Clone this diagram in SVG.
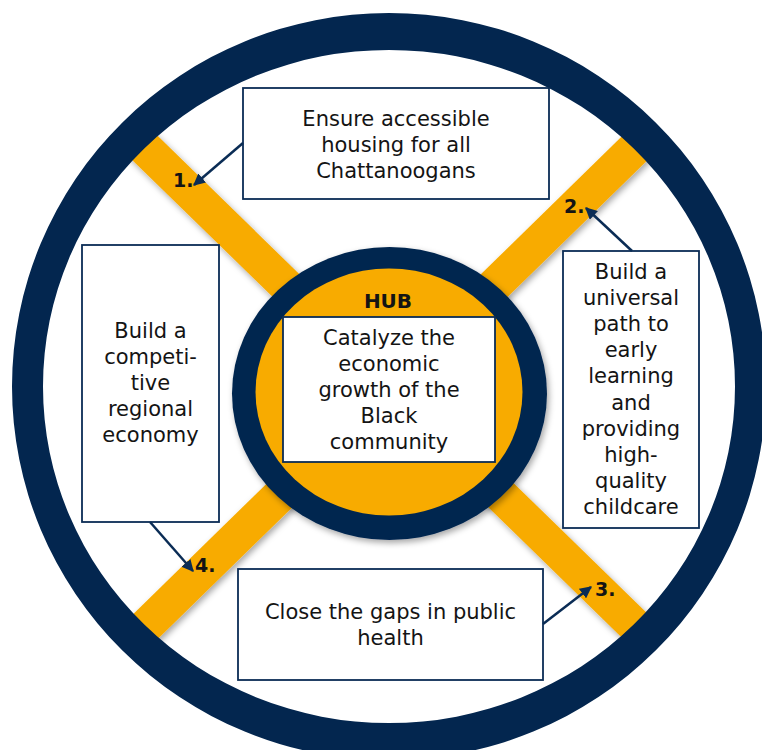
<svg xmlns="http://www.w3.org/2000/svg" width="762" height="750" viewBox="0 0 762 750">
<defs>
<style>
.bar{stroke:#F8AB00;stroke-width:35;fill:none}
.box{fill:#fff;stroke:#0a2c55;stroke-width:1.8}
.t{font-family:"DejaVu Sans","Liberation Sans",sans-serif;font-size:21px;fill:#141414;text-anchor:middle}
.n{font-family:"DejaVu Sans","Liberation Sans",sans-serif;font-size:19px;font-weight:bold;fill:#141414}
.arr{stroke:#0a2c55;stroke-width:2.5;fill:none;marker-end:url(#ah)}
</style>
<marker id="ah" viewBox="0 0 10 10" refX="9" refY="5" markerWidth="4.8" markerHeight="4.8" orient="auto">
<path d="M0,0 L10,5 L0,10 Z" fill="#0a2c55"/>
</marker>
<filter id="sh" x="-20%" y="-20%" width="140%" height="140%">
<feDropShadow dx="2" dy="3" stdDeviation="3" flood-color="#000" flood-opacity="0.35"/>
</filter>
</defs>
<rect width="762" height="750" fill="#fff"/>
<g id="bars" filter="url(#sh)">
<line class="bar" x1="136.4" y1="139.6" x2="641.6" y2="632.4"/>
<line class="bar" x1="641.6" y1="141.6" x2="138.4" y2="633.4"/>
</g>
<g id="ring">
<path fill="#03264F" fill-rule="evenodd" d="M12,386.5 a377,373.5 0 1,0 754,0 a377,373.5 0 1,0 -754,0 Z M43,386.5 a346,336.5 0 1,0 692,0 a346,336.5 0 1,0 -692,0 Z"/>
</g>
<g id="hub">
<ellipse cx="389.5" cy="393.5" rx="157.5" ry="146.5" fill="#03264F" filter="url(#sh)"/>
<ellipse cx="389" cy="392" rx="133.5" ry="123.5" fill="#F8AB00"/>
<text class="n" x="388" y="308" text-anchor="middle" style="font-size:20px">HUB</text>
<rect class="box" x="283" y="317" width="212" height="145"/>
<text class="t"><tspan x="389" y="345">Catalyze the</tspan><tspan x="389" y="371">economic</tspan><tspan x="389" y="397">growth of the</tspan><tspan x="389" y="423">Black</tspan><tspan x="389" y="449">community</tspan></text>
</g>
<g id="goal1">
<rect class="box" x="243" y="88" width="306" height="111"/>
<text class="t"><tspan x="396" y="126">Ensure accessible</tspan><tspan x="396" y="152">housing for all</tspan><tspan x="396" y="178">Chattanoogans</tspan></text>
<text class="n" x="173" y="187">1.</text>
</g>
<g id="goal2">
<rect class="box" x="563" y="251" width="136" height="277"/>
<text class="t"><tspan x="631" y="279">Build a</tspan><tspan x="631" y="305">universal</tspan><tspan x="631" y="331">path to</tspan><tspan x="631" y="357">early</tspan><tspan x="631" y="383">learning</tspan><tspan x="631" y="410">and</tspan><tspan x="631" y="436">providing</tspan><tspan x="631" y="462">high-</tspan><tspan x="631" y="488">quality</tspan><tspan x="631" y="514">childcare</tspan></text>
<text class="n" x="564" y="213">2.</text>
</g>
<g id="goal3">
<rect class="box" x="238" y="569" width="305" height="111"/>
<text class="t"><tspan x="390.5" y="619">Close the gaps in public</tspan><tspan x="390.5" y="645">health</tspan></text>
<text class="n" x="595" y="596">3.</text>
</g>
<g id="goal4">
<rect class="box" x="82" y="245" width="137" height="277"/>
<text class="t"><tspan x="150.5" y="338">Build a</tspan><tspan x="150.5" y="364">competi-</tspan><tspan x="150.5" y="390">tive</tspan><tspan x="150.5" y="416">regional</tspan><tspan x="150.5" y="442">economy</tspan></text>
<text class="n" x="195" y="572">4.</text>
</g>
<g id="connectors">
<line class="arr" x1="243" y1="143" x2="194" y2="185"/>
<line class="arr" x1="632" y1="251" x2="586" y2="208"/>
<line class="arr" x1="543" y1="624" x2="591" y2="587"/>
<line class="arr" x1="150" y1="522" x2="193" y2="571"/>
</g>
</svg>
